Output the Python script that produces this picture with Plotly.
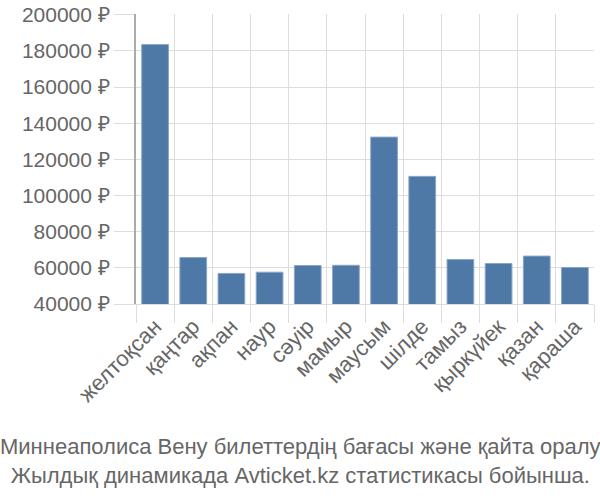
import plotly.graph_objects as go

months = ["желтоқсан", "қаңтар", "ақпан", "наур", "сәуір", "мамыр", "маусым",
          "шілде", "тамыз", "қыркүйек", "қазан", "қараша"]
prices = [183500, 65700, 56900, 57600, 61300, 61400, 132300, 110600, 64600, 62400, 66500, 60200]
y_ticks = [40000, 60000, 80000, 100000, 120000, 140000, 160000, 180000, 200000]
title_lines = ["Миннеаполиса Вену билеттердің бағасы және қайта оралу",
               "Жылдық динамикада Avticket.kz статистикасы бойынша."]

font_family = "Liberation Sans, Arial, sans-serif"
text_color = "#666666"

W, H = 600, 500
ml, mr, mt, mb = 136, 6, 14, 196
plot_w = W - ml - mr
plot_h = H - mt - mb

fig = go.Figure(go.Bar(
    x=months, y=prices,
    marker=dict(color="#4e79a7", line=dict(color="#8aa6c8", width=1)),
))

fig.update_layout(
    width=W, height=H,
    margin=dict(l=ml, r=mr, t=mt, b=mb, autoexpand=False),
    paper_bgcolor="white", plot_bgcolor="white",
    bargap=0.3,
    showlegend=False,
    font=dict(family=font_family, color=text_color, size=20),
)

fig.update_yaxes(
    range=[40000, 200400],
    tickvals=y_ticks,
    ticktext=[f"{v} ₽" for v in y_ticks],
    ticks="outside", ticklen=20, tickcolor="#dddddd",
    showgrid=True, gridcolor="#dddddd", gridwidth=1,
    showline=True, linecolor="#aaaaaa", linewidth=2,
    tickfont=dict(size=21, color=text_color),
    zeroline=False, automargin=False, ticklabeloverflow="allow",
)
fig.update_xaxes(
    tickangle=-45,
    tickson="boundaries",
    ticks="outside", ticklen=18, tickcolor="#dddddd",
    showgrid=True, gridcolor="#dddddd", gridwidth=1,
    showline=True, linecolor="#dddddd", linewidth=1,
    tickfont=dict(size=22, color=text_color),
    automargin=False,
)

fig.add_annotation(
    text="<br>".join(title_lines),
    xref="paper", yref="paper",
    x=(W / 2 - ml) / plot_w, y=-(432 - (mt + plot_h)) / plot_h,
    xanchor="center", yanchor="top",
    showarrow=False,
    font=dict(size=22, color=text_color, family=font_family),
    align="center",
)

fig.write_html("out.html", config={"displayModeBar": False},
               post_script="document.body.style.margin='0';")
